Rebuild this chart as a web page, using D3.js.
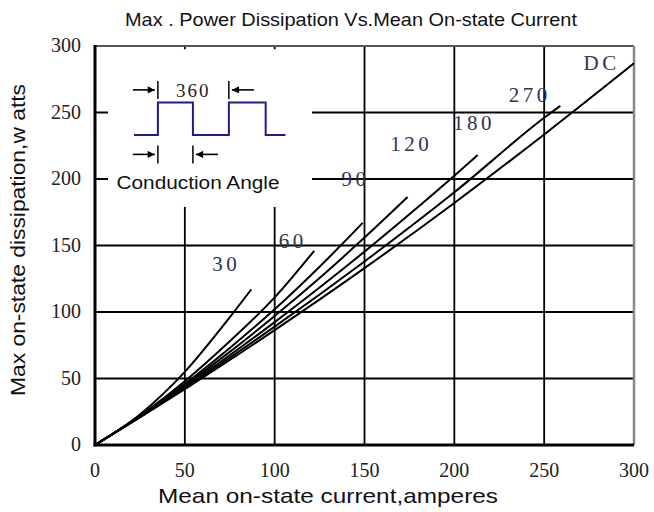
<!DOCTYPE html>
<html><head><meta charset="utf-8">
<script src="https://cdn.jsdelivr.net/npm/d3@7/dist/d3.min.js"></script>
<style>body{margin:0;background:#fff}</style>
</head><body>
<svg id="c" width="654" height="512"></svg>
<script>
const xTicks = [0, 50, 100, 150, 200, 250, 300];
const yTicks = [0, 50, 100, 150, 200, 250, 300];
const gridVals = [50, 100, 150, 200, 250];

const curveNames = ["30", "60", "90", "120", "180", "270", "DC"];
const c30  = [[0,0],[25,23],[50,55],[75,96],[87,117]];
const c60  = [[0,0],[25,22],[50,48],[75,78],[100,111],[122,146]];
const c90  = [[0,0],[25,21.7],[50,46],[75,73],[100,102],[125,134],[149,167]];
const c120 = [[0,0],[25,21.5],[50,45],[75,70],[100,97],[125,125.5],[150,156],[174,186.5]];
const c180 = [[0,0],[25,21.3],[50,44],[75,67.5],[100,92.4],[125,118.4],[150,145.4],[175,173.5],[200,202.5],[213,218]];
const c270 = [[0,0],[25,21],[50,43],[100,89],[150,138],[200,190],[250,246],[259,255]];
const cDC  = [[0,0],[25,20.7],[50,42],[100,86.4],[150,133],[200,182],[250,233.5],[300,287]];
const curves = [c30, c60, c90, c120, c180, c270, cDC];
// label anchor positions (data units)
const labelPos = [[73,131],[110,148],[145,195],[176,221],[211,237],[242,258],[282,282]];

const svg = d3.select("#c");
const x = d3.scaleLinear().domain([0,300]).range([95,634]);
const y = d3.scaleLinear().domain([0,300]).range([445,46]);

// grid
svg.append("g").selectAll("line.v").data(gridVals).join("line")
  .attr("x1", d=>x(d)).attr("x2", d=>x(d)).attr("y1", y(0)).attr("y2", y(300))
  .attr("stroke","#000").attr("stroke-width",1.8);
svg.append("g").selectAll("line.h").data(gridVals).join("line")
  .attr("x1", x(0)).attr("x2", x(300)).attr("y1", d=>y(d)).attr("y2", d=>y(d))
  .attr("stroke","#000").attr("stroke-width",1.8);

// inset white box
svg.append("rect")
  .attr("x", x(7.2)).attr("y", y(297.5))
  .attr("width", x(120.8)-x(7.2)).attr("height", y(179)-y(297.5))
  .attr("fill","#fff");

// frame
svg.append("line").attr("x1",x(0)).attr("x2",x(300)).attr("y1",y(300)).attr("y2",y(300)).attr("stroke","#555").attr("stroke-width",2);
svg.append("line").attr("x1",x(300)).attr("x2",x(300)).attr("y1",y(0)).attr("y2",y(300)).attr("stroke","#888").attr("stroke-width",2.5);
svg.append("line").attr("x1",x(0)).attr("x2",x(0)).attr("y1",y(0)+1.5).attr("y2",y(300)-1).attr("stroke","#000").attr("stroke-width",3);
svg.append("line").attr("x1",x(0)-1.5).attr("x2",x(300)).attr("y1",y(0)).attr("y2",y(0)).attr("stroke","#000").attr("stroke-width",3);

// curves
const line = d3.line().x(d=>x(d[0])).y(d=>y(d[1])).curve(d3.curveMonotoneX);
svg.append("g").selectAll("path").data(curves).join("path")
  .attr("d", line).attr("fill","none").attr("stroke","#000").attr("stroke-width",2);

// curve labels
svg.append("g").selectAll("text").data(curveNames).join("text")
  .attr("x",(d,i)=>x(labelPos[i][0])).attr("y",(d,i)=>y(labelPos[i][1]))
  .attr("text-anchor","middle")
  .attr("font-family","Liberation Serif, DejaVu Serif, serif")
  .attr("font-size",21).attr("letter-spacing",3.5).attr("fill","#2d3550")
  .text(d=>d);

// tick labels
svg.append("g").selectAll("text").data(yTicks).join("text")
  .attr("x", x(0)-14).attr("y", d=>y(d)+6)
  .attr("text-anchor","end")
  .attr("font-family","Liberation Serif, DejaVu Serif, serif")
  .attr("font-size",20).attr("fill","#222").text(d=>d);
svg.append("g").selectAll("text").data(xTicks).join("text")
  .attr("x", d=>x(d)).attr("y", y(0)+32)
  .attr("text-anchor","middle")
  .attr("font-family","Liberation Serif, DejaVu Serif, serif")
  .attr("font-size",20).attr("fill","#222").text(d=>d);

// titles
svg.append("text").attr("x",351).attr("y",26).attr("text-anchor","middle")
  .attr("font-family","Liberation Sans, Arial, sans-serif")
  .attr("font-size",19).attr("fill","#111")
  .attr("textLength",452).attr("lengthAdjust","spacingAndGlyphs")
  .text("Max . Power Dissipation Vs.Mean On-state Current");
svg.append("text").attr("x",328).attr("y",503).attr("text-anchor","middle")
  .attr("font-family","Liberation Sans, Arial, sans-serif")
  .attr("font-size",21).attr("fill","#111")
  .attr("textLength",340).attr("lengthAdjust","spacingAndGlyphs")
  .text("Mean  on-state current,amperes");
svg.append("text").attr("transform","translate(25,240) rotate(-90)").attr("text-anchor","middle")
  .attr("font-family","Liberation Sans, Arial, sans-serif")
  .attr("font-size",21).attr("fill","#111")
  .attr("textLength",312).attr("lengthAdjust","spacingAndGlyphs")
  .text("Max on-state dissipation,w atts");

// inset: conduction angle waveform
const navy = "#1c1c8a";
const waveX = [21.7, 35, 54.5, 74.5, 95, 106];
const waveLow = 233, waveHigh = 257.5;
const wave = [[waveX[0],waveLow],[waveX[1],waveLow],[waveX[1],waveHigh],[waveX[2],waveHigh],[waveX[2],waveLow],
  [waveX[3],waveLow],[waveX[3],waveHigh],[waveX[4],waveHigh],[waveX[4],waveLow],[waveX[5],waveLow]];
svg.append("path").attr("d", d3.line().x(d=>x(d[0])).y(d=>y(d[1]))(wave))
  .attr("fill","none").attr("stroke",navy).attr("stroke-width",2);

const defs = svg.append("defs");
defs.append("marker").attr("id","ah").attr("viewBox","0 0 10 10").attr("refX",10).attr("refY",5)
  .attr("markerWidth",5.5).attr("markerHeight",4.5).attr("orient","auto-start-reverse")
  .append("path").attr("d","M0,0L10,5L0,10z").attr("fill","#000");

function dim(xa, xb, yv, label) {
  const g = svg.append("g");
  const yy = y(yv);
  g.append("line").attr("x1",x(xa)).attr("x2",x(xa)).attr("y1",yy-9).attr("y2",yy+9).attr("stroke","#000").attr("stroke-width",1.5);
  g.append("line").attr("x1",x(xb)).attr("x2",x(xb)).attr("y1",yy-9).attr("y2",yy+9).attr("stroke","#000").attr("stroke-width",1.5);
  g.append("line").attr("x1",x(xa)-25).attr("x2",x(xa)-3).attr("y1",yy).attr("y2",yy).attr("stroke","#000").attr("stroke-width",1.6).attr("marker-end","url(#ah)");
  g.append("line").attr("x1",x(xb)+25).attr("x2",x(xb)+3).attr("y1",yy).attr("y2",yy).attr("stroke","#000").attr("stroke-width",1.6).attr("marker-end","url(#ah)");
  if (label) {
    g.append("text").attr("x",(x(xa)+x(xb))/2).attr("y",yy+7).attr("text-anchor","middle")
      .attr("font-family","Liberation Serif, DejaVu Serif, serif").attr("font-size",19).attr("letter-spacing",2)
      .attr("fill","#222").text(label);
  }
}
dim(waveX[1], waveX[3], 267, "360");
dim(waveX[1], waveX[2], 218.5, null);

svg.append("text").attr("x",x(12)).attr("y",y(192.5))
  .attr("font-family","Liberation Sans, Arial, sans-serif").attr("font-size",17.5).attr("fill","#111")
  .attr("textLength",163).attr("lengthAdjust","spacingAndGlyphs")
  .text("Conduction Angle");
</script>
</body></html>
